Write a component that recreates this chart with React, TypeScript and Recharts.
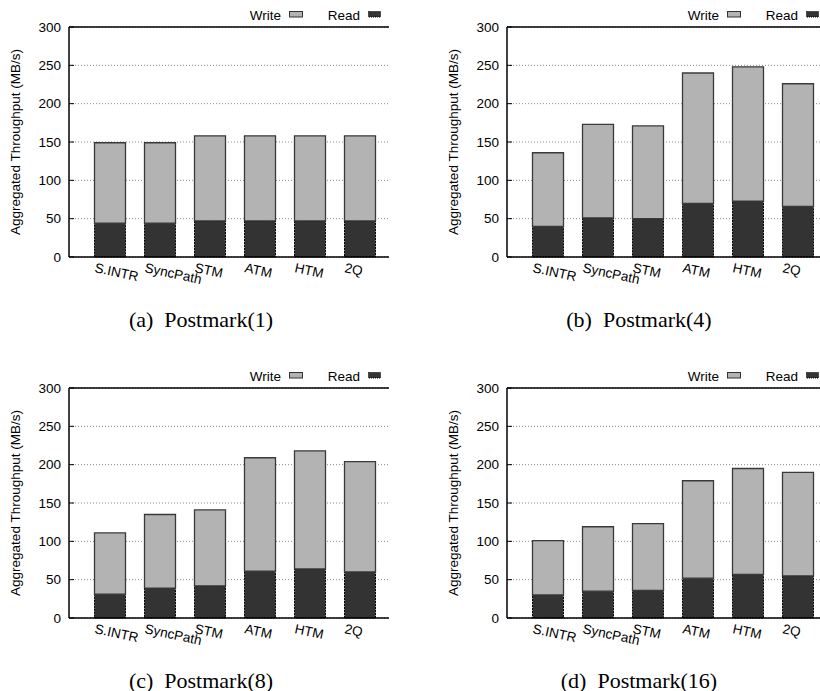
import React from "react"
import { BarChart, Bar, XAxis, YAxis, CartesianGrid, ReferenceLine } from "recharts"

const categories = ["S.INTR", "SyncPath", "STM", "ATM", "HTM", "2Q"]
const yTicks = [0, 50, 100, 150, 200, 250, 300]

// Postmark(1)
const read1 = [44, 44, 47, 47, 47, 47]
const write1 = [105, 105, 111, 111, 111, 111]
// Postmark(4)
const read4 = [40, 51, 50, 70, 73, 66]
const write4 = [96, 122, 121, 170, 175, 160]
// Postmark(8)
const read8 = [31, 39, 42, 61, 64, 60]
const write8 = [80, 96, 99, 148, 154, 144]
// Postmark(16)
const read16 = [30, 35, 36, 52, 57, 55]
const write16 = [71, 84, 87, 127, 138, 135]

const SANS = "'Liberation Sans', Arial, Helvetica, sans-serif"
const SERIF = "'Liberation Serif', 'Times New Roman', serif"
const WRITE_FILL = "#b3b3b3"
const READ_FILL = "#333333"

const build = (read: number[], write: number[]) =>
  categories.map((name, i) => ({ name, read: read[i], write: write[i] }))

function XTick({ x, y, payload }: any) {
  const tx = x - 15.5
  const ty = y + 15
  return (
    <text x={tx} y={ty} transform={`rotate(12 ${tx} ${ty})`} fontSize={13.5} fill="#000" fontFamily={SANS}>
      {payload.value}
    </text>
  )
}

function Panel({ read, write, caption, left, top }: any) {
  const data = build(read, write)
  return (
    <div style={{ position: "absolute", left, top, width: 420, height: 340 }}>
      <BarChart
        width={400}
        height={300}
        data={data}
        margin={{ top: 27, right: 11, bottom: 13, left: 29 }}
        barSize={31}
        style={{ fontFamily: SANS }}
      >
        <CartesianGrid vertical={false} stroke="#8a8a8a" strokeDasharray="1 2" />
        <XAxis
          dataKey="name"
          tickLine={false}
          tickSize={0}
          tickMargin={0}
          height={30}
          padding={{ left: 15.5, right: 4.5 }}
          axisLine={{ stroke: "#000", strokeWidth: 1.5 }}
          tick={<XTick />}
          interval={0}
        />
        <YAxis
          domain={[0, 300]}
          ticks={yTicks}
          width={40}
          tickSize={-5}
          tickMargin={13}
          tickLine={{ stroke: "#000" }}
          axisLine={{ stroke: "#000", strokeWidth: 1.5 }}
          tick={{ fill: "#000", fontSize: 13.5 }}
        />
        <YAxis
          yAxisId="r"
          orientation="right"
          domain={[0, 300]}
          ticks={yTicks}
          width={0}
          tickSize={-5}
          tick={false}
          tickLine={{ stroke: "#000" }}
          axisLine={{ stroke: "#000", strokeWidth: 1.5 }}
        />
        <ReferenceLine y={300} stroke="#000" strokeWidth={1.5} />
        <Bar
          dataKey="read"
          stackId="s"
          fill={READ_FILL}
          stroke="#000"
          strokeWidth={1}
          strokeDasharray="2 1"
          isAnimationActive={false}
        />
        <Bar
          dataKey="write"
          stackId="s"
          fill={WRITE_FILL}
          stroke="#3a3a3a"
          strokeWidth={1.3}
          isAnimationActive={false}
        />
      </BarChart>
      <svg
        width={420}
        height={340}
        style={{ position: "absolute", left: 0, top: 0, pointerEvents: "none", overflow: "visible" }}
      >
        <text x={281} y={19.5} textAnchor="end" fontSize={13.5} fontFamily={SANS} fill="#000">
          Write
        </text>
        <rect x={289.5} y={11.5} width={13} height={5.5} fill={WRITE_FILL} stroke="#333" strokeWidth={1} />
        <text x={360} y={19.5} textAnchor="end" fontSize={13.5} fontFamily={SANS} fill="#000">
          Read
        </text>
        <rect x={368.5} y={11.5} width={12} height={5.5} fill={READ_FILL} stroke="#000" strokeDasharray="1 1" />
        <text
          x={19.5}
          y={142}
          transform="rotate(-90 19.5 142)"
          textAnchor="middle"
          fontSize={13.5}
          fontFamily={SANS}
          fill="#000"
        >
          Aggregated Throughput (MB/s)
        </text>
        <text x={201} y={326.5} textAnchor="middle" fontSize={22} fontFamily={SERIF} fill="#000" style={{ whiteSpace: "pre" }}>
          {caption}
        </text>
      </svg>
    </div>
  )
}

export default function App() {
  return (
    <div style={{ position: "fixed", left: 0, top: 0, width: 820, height: 691, overflow: "hidden", background: "#fff" }}>
      <Panel read={read1} write={write1} caption="(a)  Postmark(1)" left={0} top={0} />
      <Panel read={read4} write={write4} caption="(b)  Postmark(4)" left={438} top={0} />
      <Panel read={read8} write={write8} caption="(c)  Postmark(8)" left={0} top={361} />
      <Panel read={read16} write={write16} caption="(d)  Postmark(16)" left={438} top={361} />
    </div>
  )
}
